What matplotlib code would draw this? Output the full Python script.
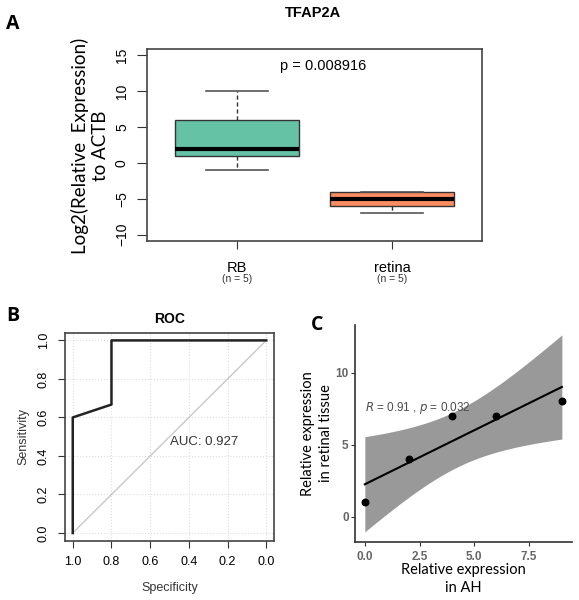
import numpy as np
import matplotlib
matplotlib.use('Agg')
import matplotlib.pyplot as plt

# Datos de la figura
grupos = ['RB', 'retina']
n_grupos = ['(n = 5)', '(n = 5)']
# resumen de cinco numeros: minimo, Q1, mediana, Q3, maximo
rb_resumen = [-1, 1, 2, 6, 10]
retina_resumen = [-7, -6, -5, -4, -4]
colores_caja = ['#66C2A5', '#FC8D62']
p_valor = 'p = 0.008916'

# Curva ROC
especificidad = [1.0, 1.0, 0.8, 0.8, 0.0]
sensibilidad = [0.0, 0.6, 0.667, 1.0, 1.0]
auc_texto = 'AUC: 0.927'

# Correlacion AH vs tejido retinal
expr_ah = np.array([0, 2, 4, 6, 9])
expr_retina = np.array([1, 4, 7, 7, 8])
r_texto = '$R$ = 0.91 , $p$ = 0.032'
t_critico = 3.182  # t de Student, 95%, gl = 3

fuente_r = 'Liberation Sans'
fuente_titulos = 'Lato'

fig = plt.figure(figsize=(5.79, 6.0), dpi=100)

## Panel A: boxplot
ax1 = fig.add_axes([0.2539, 0.5983, 0.5786, 0.32])
stats = []
for nombre, r in zip(grupos, [rb_resumen, retina_resumen]):
    stats.append({'label': nombre, 'whislo': r[0], 'q1': r[1], 'med': r[2],
                  'q3': r[3], 'whishi': r[4], 'fliers': []})
cajas = ax1.bxp(stats, positions=[1, 2], widths=0.8, patch_artist=True,
                capwidths=0.4,
                boxprops=dict(edgecolor='#333333', linewidth=1.0),
                medianprops=dict(color='black', linewidth=3),
                whiskerprops=dict(color='#333333', linestyle=(0, (3, 2)), linewidth=1.0),
                capprops=dict(color='#555555', linewidth=1.2))
for caja, c in zip(cajas['boxes'], colores_caja):
    caja.set_facecolor(c)
ax1.set_xlim(0.42, 2.58)
ax1.set_ylim(-10.9, 15.9)
ax1.set_yticks([-10, -5, 0, 5, 10, 15])
ax1.set_yticklabels(['−10', '−5', '0', '5', '10', '15'], rotation=90, va='center',
                    fontsize=10, family=fuente_r)
ax1.set_xticks([1, 2])
ax1.set_xticklabels(grupos, fontsize=10.5, family=fuente_r)
ax1.tick_params(axis='y', length=7, pad=6, color='#333333')
ax1.tick_params(axis='x', length=6, pad=8.5, color='#333333')
for x, n in zip([1, 2], n_grupos):
    ax1.text(x, -0.198, n, transform=ax1.get_xaxis_transform(), ha='center',
             va='center', fontsize=7.5, family=fuente_r, color='#333333')
for s in ax1.spines.values():
    s.set_color('#444444')
    s.set_linewidth(1.2)
ax1.text(1.555, 13.5, p_valor, ha='center', va='center', fontsize=10.5, family=fuente_r)
ax1.set_ylabel('Log2(Relative  Expression)\nto ACTB', fontsize=13.5, family=fuente_titulos,
               linespacing=1.2)
ax1.yaxis.set_label_coords(-0.113, 0.497)
fig.text(313 / 579, 1 - 13 / 600, 'TFAP2A', ha='center', va='center', fontsize=10.5,
         fontweight='bold', family=fuente_r)
fig.text(13 / 579, 1 - 24 / 600, 'A', ha='center', va='center', fontsize=14,
         fontweight='bold', family='Open Sans')

## Panel B: ROC
ax2 = fig.add_axes([0.1123, 0.0988, 0.361, 0.3467])
ax2.set_xlim(1.04, -0.04)
ax2.set_ylim(-0.04, 1.04)
marcas = [0.0, 0.2, 0.4, 0.6, 0.8, 1.0]
for m in marcas:
    ax2.axvline(m, color='#dddddd', linestyle=':', linewidth=0.8, zorder=0)
    ax2.axhline(m, color='#dddddd', linestyle=':', linewidth=0.8, zorder=0)
ax2.plot([1, 0], [0, 1], color='#c8c8c8', linewidth=1.0)
ax2.plot(especificidad, sensibilidad, color='#222222', linewidth=1.8)
ax2.text(0.5, 0.47, auc_texto, ha='left', va='center', fontsize=9.5, family=fuente_r,
         color='#333333')
ax2.set_xticks(marcas)
ax2.set_xticklabels(['%.1f' % m for m in marcas], fontsize=9, family=fuente_r)
ax2.set_yticks(marcas)
ax2.set_yticklabels(['%.1f' % m for m in marcas], rotation=90, va='center', fontsize=9,
                    family=fuente_r)
ax2.tick_params(length=5, pad=6, color='#333333')
for s in ax2.spines.values():
    s.set_color('#444444')
    s.set_linewidth(1.2)
ax2.set_xlabel('Specificity', fontsize=9, family=fuente_r, color='#333333', labelpad=10)
ax2.set_ylabel('Sensitivity', fontsize=9, family=fuente_r, color='#333333', labelpad=6)
ax2.set_title('ROC', fontsize=10, fontweight='bold', family=fuente_r, pad=7)
fig.text(13 / 579, 1 - 316 / 600, 'B', ha='center', va='center', fontsize=14,
         fontweight='bold', family='Open Sans')

## Panel C: correlacion con banda de confianza
ax3 = fig.add_axes([0.6131, 0.0972, 0.3743, 0.3612])
pendiente, intercepto = np.polyfit(expr_ah, expr_retina, 1)
xs = np.linspace(expr_ah.min(), expr_ah.max(), 80)
ys = intercepto + pendiente * xs
residuos = expr_retina - (intercepto + pendiente * expr_ah)
s_res = np.sqrt(np.sum(residuos ** 2) / (len(expr_ah) - 2))
sxx = np.sum((expr_ah - expr_ah.mean()) ** 2)
ee = s_res * np.sqrt(1 / len(expr_ah) + (xs - expr_ah.mean()) ** 2 / sxx)
ax3.fill_between(xs, ys - t_critico * ee, ys + t_critico * ee, color='#999999',
                 linewidth=0, zorder=1)
ax3.plot(xs, ys, color='black', linewidth=1.5, zorder=2)
ax3.scatter(expr_ah, expr_retina, s=22, color='black', zorder=3)
ax3.text(0.0, 7.55, r_texto, ha='left', va='center', fontsize=8.5, family=fuente_r,
         color='#4d4d4d')
ax3.set_xlim(-0.45, 9.45)
ax3.set_ylim(-1.73, 13.3)
ax3.set_xticks([0, 2.5, 5, 7.5])
ax3.set_xticklabels(['0.0', '2.5', '5.0', '7.5'])
ax3.set_yticks([0, 5, 10])
ax3.tick_params(length=3, color='#333333', labelsize=8.5, labelcolor='#666666')
ax3.tick_params(axis='y', pad=1.5)
for lab in ax3.get_xticklabels() + ax3.get_yticklabels():
    lab.set_family(fuente_r)
    lab.set_fontweight('bold')
ax3.spines['top'].set_visible(False)
ax3.spines['right'].set_visible(False)
ax3.spines['left'].set_color('#333333')
ax3.spines['bottom'].set_color('#333333')
ax3.spines['left'].set_linewidth(1.2)
ax3.spines['bottom'].set_linewidth(1.2)
ax3.set_xlabel('Relative expression\nin AH', fontsize=10.5, family=fuente_titulos,
               linespacing=1.4, labelpad=0)
ax3.set_ylabel('Relative expression\nin retinal tissue', fontsize=10.5,
               family=fuente_titulos, linespacing=1.4)
ax3.yaxis.set_label_coords(-0.1, 0.5)
fig.text(317 / 579, 1 - 325 / 600, 'C', ha='center', va='center', fontsize=14,
         fontweight='bold', family='Open Sans')

plt.savefig('out.png', dpi=100)
